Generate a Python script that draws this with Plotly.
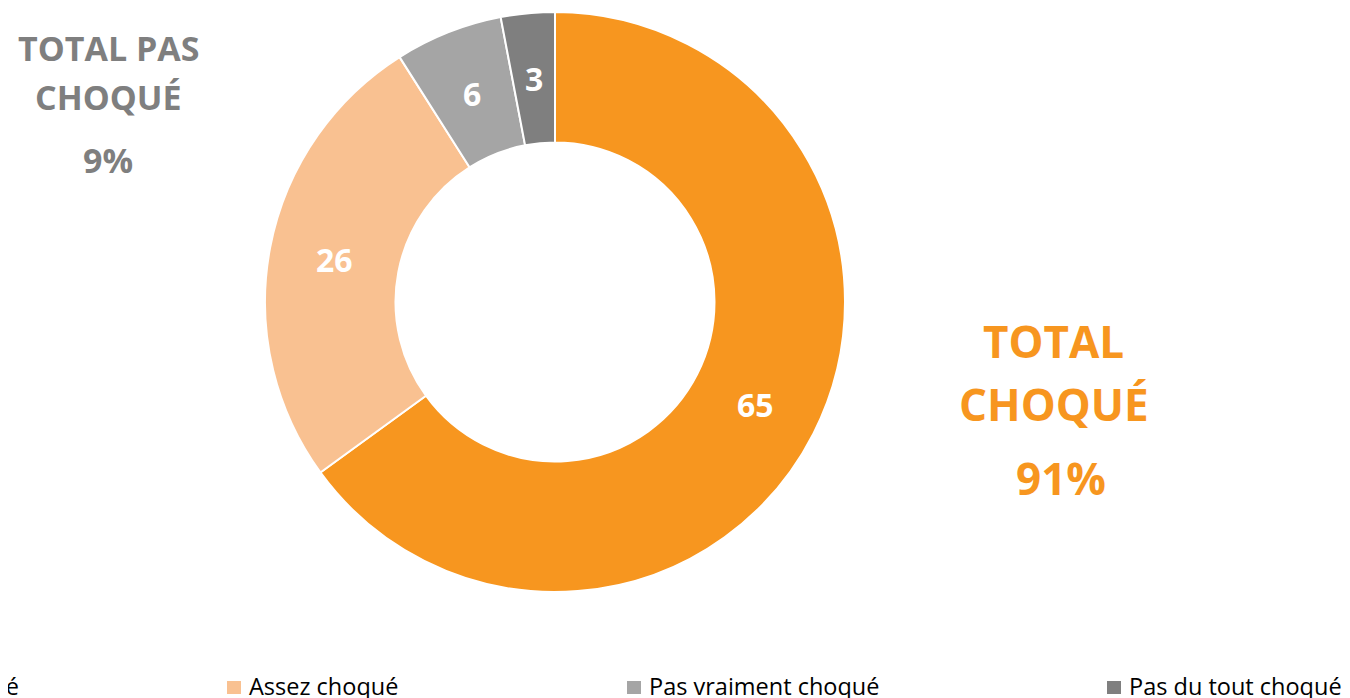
import math
import plotly.graph_objects as go

W, H = 1350, 698
OFF = 8  # page body margin offset

categories = ["Très choqué", "Assez choqué", "Pas vraiment choqué", "Pas du tout choqué"]
values = [65, 26, 6, 3]
colors = ["#F7961F", "#F9C191", "#A5A5A5", "#7F7F7F"]

total_labels = ["TOTAL PAS", "CHOQUÉ", "9%"]
total_labels_right = ["TOTAL", "CHOQUÉ", "91%"]

def px(x):
    return (x - OFF) / W

def py(y):
    return 1 - (y - OFF) / H

# pie geometry (pixels in page)
CX, CY, R_OUT, HOLE = 555, 302, 290, 0.55

fig = go.Figure()
fig.add_trace(go.Pie(
    labels=categories,
    values=values,
    hole=HOLE,
    sort=False,
    direction="clockwise",
    rotation=0,
    marker=dict(colors=colors, line=dict(color="white", width=2)),
    textinfo="none",
    domain=dict(x=[px(CX - R_OUT), px(CX + R_OUT)], y=[py(CY + R_OUT), py(CY - R_OUT)]),
    showlegend=False,
    hoverinfo="label+value",
))

annotations = []
# slice value labels at the middle of the ring
total = sum(values)
r_mid = R_OUT * (1 + HOLE) / 2
cum = 0
for v in values:
    a = (cum + v / 2) / total * 2 * math.pi
    cum += v
    lx = CX + r_mid * math.sin(a)
    ly = CY - r_mid * math.cos(a)
    annotations.append(dict(x=px(lx), y=py(ly), xref="paper", yref="paper",
                            text=str(v), showarrow=False, xanchor="center", yanchor="middle",
                            font=dict(family="Open Sans", size=32, color="white", weight="bold")))

# Left totals (grey)
for txt, y in zip(total_labels, [48, 97, 160]):
    annotations.append(dict(x=px(108), y=py(y), xref="paper", yref="paper",
                            text=txt, showarrow=False, xanchor="center", yanchor="middle",
                            font=dict(family="Open Sans", size=34, color="#7F7F7F", weight="bold")))
# Right totals (orange)
for txt, y, x in zip(total_labels_right, [341, 404, 478], [1053, 1054, 1061]):
    annotations.append(dict(x=px(x), y=py(y), xref="paper", yref="paper",
                            text=txt, showarrow=False, xanchor="center", yanchor="middle",
                            font=dict(family="Open Sans", size=44, color="#F7961F", weight="bold")))

# Legend (manual)
legend_sq_x = [-138, 227, 627, 1107]
shapes = []
for name, col, sx in zip(categories, colors, legend_sq_x):
    shapes.append(dict(type="rect", xref="paper", yref="paper",
                       x0=px(sx), x1=px(sx + 14), y0=py(694), y1=py(681),
                       fillcolor=col, line=dict(width=0)))
    annotations.append(dict(x=px(sx + 20), y=py(686), xref="paper", yref="paper",
                            text=name, showarrow=False, xanchor="left", yanchor="middle",
                            font=dict(family="Open Sans", size=23.5, color="#000000")))

fig.update_layout(
    width=W, height=H,
    margin=dict(l=0, r=0, t=0, b=0),
    paper_bgcolor="white",
    plot_bgcolor="white",
    annotations=annotations,
    shapes=shapes,
)

fig.write_html("out.html")
